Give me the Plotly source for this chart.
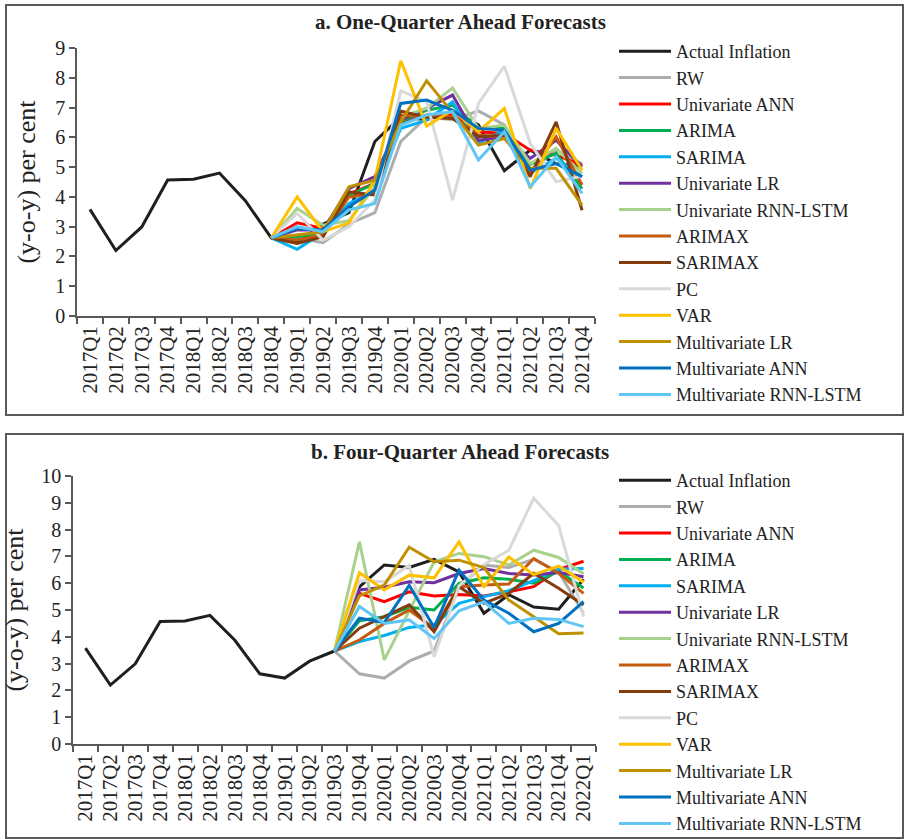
import plotly.graph_objects as go

# ---------------- data ----------------
quarters_a = ["2017Q1", "2017Q2", "2017Q3", "2017Q4", "2018Q1", "2018Q2", "2018Q3", "2018Q4",
              "2019Q1", "2019Q2", "2019Q3", "2019Q4", "2020Q1", "2020Q2", "2020Q3", "2020Q4",
              "2021Q1", "2021Q2", "2021Q3", "2021Q4"]
quarters_b = quarters_a + ["2022Q1"]

actual = [3.58, 2.20, 2.99, 4.57, 4.59, 4.80, 3.87, 2.62, 2.46, 3.09, 3.47, 5.86, 6.68, 6.59,
          6.89, 6.42, 4.88, 5.57, 5.11, 5.03, 6.15]

model_names = ["RW", "Univariate ANN", "ARIMA", "SARIMA", "Univariate LR", "Univariate RNN-LSTM",
               "ARIMAX", "SARIMAX", "PC", "VAR", "Multivariate LR", "Multivariate ANN",
               "Multivariate RNN-LSTM"]

# one-quarter ahead forecasts, 2019Q1..2021Q4
rw_a = [2.62, 2.46, 3.09, 3.47, 5.86, 6.68, 6.59, 6.89, 6.42, 4.88, 5.57, 5.11]
uann_a = [3.13, 2.94, 4.10, 4.45, 6.47, 6.75, 6.75, 6.19, 6.13, 5.57, 5.40, 5.07]
arima_a = [2.66, 2.80, 4.05, 4.45, 6.52, 6.91, 7.08, 6.30, 6.30, 5.10, 5.46, 4.28]
sarima_a = [2.24, 2.80, 3.78, 4.20, 6.30, 6.58, 7.19, 5.80, 6.24, 4.80, 5.30, 4.68]
ulr_a = [2.89, 2.89, 4.28, 4.68, 6.58, 6.97, 7.42, 5.90, 6.02, 5.29, 5.90, 5.01]
urnn_a = [3.61, 3.05, 3.20, 4.34, 6.69, 6.97, 7.66, 6.30, 6.41, 5.12, 5.63, 4.79]
arimax_a = [2.55, 2.72, 4.00, 4.12, 6.75, 6.69, 6.69, 6.07, 6.02, 4.79, 6.02, 4.40]
sarimax_a = [2.44, 2.66, 4.17, 4.06, 6.88, 6.67, 6.63, 6.02, 6.07, 4.68, 6.52, 3.55]
pc_a = [3.45, 2.55, 3.00, 3.90, 7.56, 7.20, 3.89, 7.14, 8.39, 5.80, 4.51, 4.70]
var_a = [4.00, 2.83, 3.13, 4.56, 8.57, 6.38, 6.91, 6.19, 6.97, 4.28, 6.30, 4.90]
mlr_a = [2.72, 2.83, 4.34, 4.56, 6.52, 7.90, 6.82, 5.74, 5.96, 4.96, 4.96, 3.72]
mann_a = [2.94, 2.89, 3.67, 4.23, 7.14, 7.25, 6.91, 6.30, 6.24, 4.90, 5.12, 4.68]
mrnn_a = [3.00, 2.83, 3.56, 3.78, 6.41, 6.75, 6.86, 5.24, 6.19, 4.34, 5.35, 4.12]

# four-quarter ahead forecasts, 2019Q4..2022Q1
rw_b = [2.62, 2.46, 3.09, 3.47, 5.86, 6.68, 6.59, 6.89, 6.42, 4.88]
uann_b = [5.62, 5.31, 5.68, 5.52, 5.58, 5.52, 5.68, 5.87, 6.51, 6.82]
arima_b = [4.60, 4.75, 5.10, 5.00, 5.99, 6.20, 6.15, 6.00, 6.45, 5.82]
sarima_b = [3.82, 4.05, 4.35, 4.45, 5.25, 5.50, 5.72, 6.10, 6.53, 6.55]
ulr_b = [5.75, 5.85, 6.05, 6.02, 6.36, 6.55, 6.36, 6.31, 6.40, 6.24]
urnn_b = [7.54, 3.14, 5.00, 6.80, 7.11, 6.99, 6.68, 7.23, 6.96, 6.35]
arimax_b = [3.88, 4.50, 5.00, 4.32, 5.87, 5.93, 5.97, 6.92, 6.37, 5.62]
sarimax_b = [4.32, 4.75, 5.19, 4.19, 5.87, 5.25, 5.62, 6.37, 5.81, 5.19]
pc_b = [6.10, 6.05, 6.66, 3.26, 5.90, 6.70, 7.23, 9.17, 8.15, 4.75]
var_b = [6.39, 5.75, 6.30, 6.20, 7.54, 5.87, 6.98, 6.32, 6.64, 6.04]
mlr_b = [5.53, 5.93, 7.34, 6.80, 6.86, 6.58, 5.37, 4.75, 4.11, 4.14]
mann_b = [4.70, 4.53, 5.92, 4.35, 6.49, 5.37, 4.88, 4.19, 4.50, 5.31]
mrnn_b = [5.13, 4.50, 4.63, 3.94, 4.97, 5.30, 4.50, 4.69, 4.65, 4.38]

series_a = [rw_a, uann_a, arima_a, sarima_a, ulr_a, urnn_a, arimax_a, sarimax_a, pc_a,
            var_a, mlr_a, mann_a, mrnn_a]
series_b = [rw_b, uann_b, arima_b, sarima_b, ulr_b, urnn_b, arimax_b, sarimax_b, pc_b,
            var_b, mlr_b, mann_b, mrnn_b]

colors = ["#ADADAD", "#FF0000", "#00B050", "#00B0F0", "#7030A0", "#A9D18E", "#C55A11",
          "#843C0C", "#D9D9D9", "#FFC000", "#BF9000", "#0070C0", "#5FC6F5"]
actual_color = "#1F1F1F"

FONT = "Times New Roman, Liberation Serif, serif"
TXT = "#222222"
W, H = 905, 839

fig = go.Figure()

# panel a
start_a = quarters_a.index("2018Q4")
fig.add_trace(go.Scatter(x=quarters_a, y=actual[:len(quarters_a)], mode="lines",
                         name="Actual Inflation", line=dict(color=actual_color, width=3),
                         xaxis="x", yaxis="y", legend="legend"))
for name, vals, col in zip(model_names, series_a, colors):
    fig.add_trace(go.Scatter(x=quarters_a[start_a:], y=[actual[start_a]] + vals, mode="lines",
                             name=name, line=dict(color=col, width=3),
                             xaxis="x", yaxis="y", legend="legend"))

# panel b
start_b = quarters_b.index("2019Q3")
fig.add_trace(go.Scatter(x=quarters_b, y=actual, mode="lines",
                         name="Actual Inflation", line=dict(color=actual_color, width=3),
                         xaxis="x2", yaxis="y2", legend="legend2"))
for name, vals, col in zip(model_names, series_b, colors):
    fig.add_trace(go.Scatter(x=quarters_b[start_b:], y=[actual[start_b]] + vals, mode="lines",
                             name=name, line=dict(color=col, width=3),
                             xaxis="x2", yaxis="y2", legend="legend2"))

line_common = dict(showgrid=False, zeroline=False, showline=True, linecolor="#595959",
                   linewidth=1.5, ticks="outside", ticklen=6, tickcolor="#595959",
                   tickwidth=1.5)
xtick_font = dict(family=FONT, size=21, color=TXT)
ytick_font = dict(family=FONT, size=20, color=TXT)
ytitle = dict(text="(y-o-y) per cent", font=dict(family=FONT, size=26, color=TXT), standoff=12)
legend_common = dict(xanchor="left", yanchor="top", font=dict(family=FONT, size=18, color=TXT),
                     bgcolor="rgba(0,0,0,0)", tracegroupgap=0, itemwidth=52)

fig.update_layout(
    width=W, height=H, margin=dict(l=0, r=0, t=0, b=0, autoexpand=False),
    paper_bgcolor="white", plot_bgcolor="white",
    font=dict(family=FONT, size=19, color=TXT),
    xaxis=dict(domain=[77 / W, 595 / W], anchor="y", type="category",
               categoryorder="array", categoryarray=quarters_a, tickson="boundaries",
               tickmode="array", tickvals=quarters_a, ticktext=quarters_a,
               tickangle=-90, range=[-0.5, len(quarters_a) - 0.5], tickfont=xtick_font,
               **line_common),
    yaxis=dict(domain=[1 - 316 / H, 1 - 48 / H], anchor="x", range=[0, 9], dtick=1,
               title=ytitle, tickfont=ytick_font, **line_common),
    xaxis2=dict(domain=[73 / W, 596 / W], anchor="y2", type="category",
                categoryorder="array", categoryarray=quarters_b, tickson="boundaries",
                tickmode="array", tickvals=quarters_b, ticktext=quarters_b,
                tickangle=-90, range=[-0.5, len(quarters_b) - 0.5], tickfont=xtick_font,
                **line_common),
    yaxis2=dict(domain=[1 - 744 / H, 1 - 476 / H], anchor="x2", range=[0, 10], dtick=1,
                title=ytitle, tickfont=ytick_font, **line_common),
    legend=dict(x=614 / W, y=1 - 33 / H, **legend_common),
    legend2=dict(x=614 / W, y=1 - 462 / H, **legend_common),
    shapes=[
        dict(type="rect", xref="paper", yref="paper", x0=6 / W, x1=903 / W,
             y0=1 - 415 / H, y1=1 - 5 / H, line=dict(color="#595959", width=2)),
        dict(type="rect", xref="paper", yref="paper", x0=6 / W, x1=903 / W,
             y0=1 - 838 / H, y1=1 - 434 / H, line=dict(color="#595959", width=2)),
    ],
    annotations=[
        dict(text="<b>a. One-Quarter Ahead Forecasts</b>", xref="paper", yref="paper",
             x=460 / W, y=1 - 22 / H, xanchor="center", yanchor="middle", showarrow=False,
             font=dict(family=FONT, size=21, color=TXT)),
        dict(text="<b>b. Four-Quarter Ahead Forecasts</b>", xref="paper", yref="paper",
             x=460 / W, y=1 - 452 / H, xanchor="center", yanchor="middle", showarrow=False,
             font=dict(family=FONT, size=21, color=TXT)),
    ],
)

fig.write_html("out.html", config={"displayModeBar": False},
               post_script="document.body.style.margin='0';")
